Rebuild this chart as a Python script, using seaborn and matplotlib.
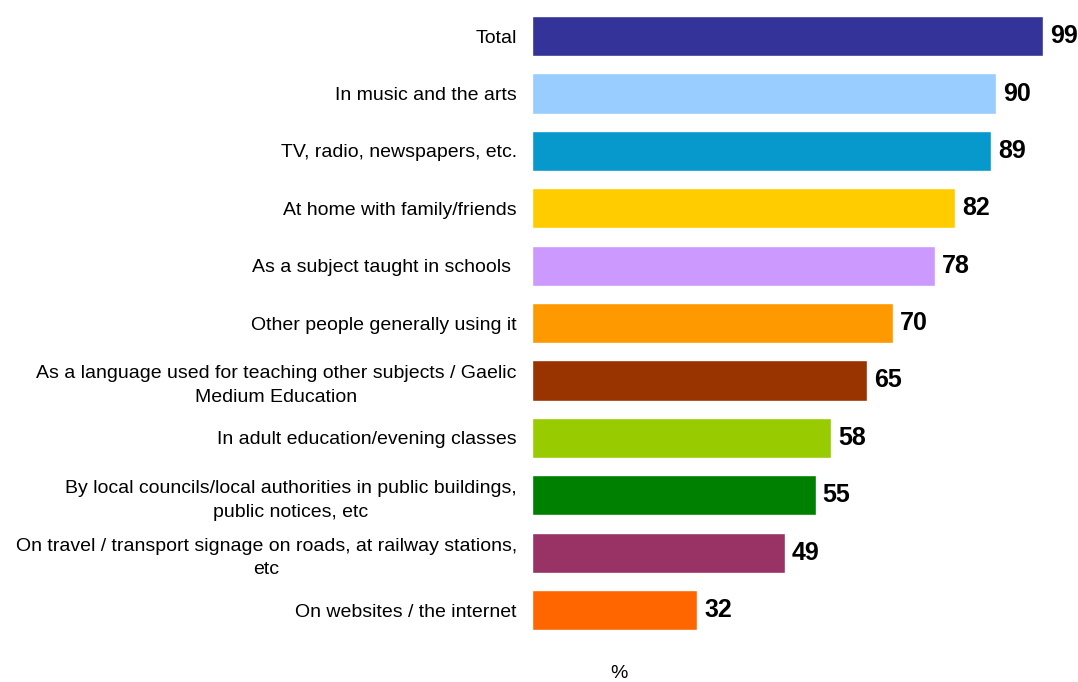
import matplotlib
matplotlib.use("Agg")
import matplotlib.pyplot as plt
import seaborn as sns
import pandas as pd

# Datos
categorias = [
    "Total",
    "In music and the arts",
    "TV, radio, newspapers, etc.",
    "At home with family/friends",
    "As a subject taught in schools ",
    "Other people generally using it",
    "As a language used for teaching other subjects / Gaelic\nMedium Education",
    "In adult education/evening classes",
    "By local councils/local authorities in public buildings,\npublic notices, etc",
    "On travel / transport signage on roads, at railway stations,\netc",
    "On websites / the internet",
]
valores = [99, 90, 89, 82, 78, 70, 65, 58, 55, 49, 32]
colores = ["#333399", "#99CCFF", "#0899CC", "#FFCC00", "#CC99FF", "#FF9900",
           "#993300", "#99CC00", "#008000", "#993366", "#FF6600"]

df = pd.DataFrame({"Categoria": categorias, "Valor": valores})

sns.set_style("white")
plt.rcParams["font.family"] = ["Liberation Sans", "DejaVu Sans"]
plt.rcParams["text.color"] = "black"
plt.rcParams["axes.labelcolor"] = "black"
plt.rcParams["ytick.color"] = "black"

fig = plt.figure(figsize=(10.78, 6.82), dpi=100)
ax = fig.add_axes([0.4935, 0.0635, 0.4787, 0.9255])

sns.barplot(data=df, x="Valor", y="Categoria", hue="Categoria", palette=colores,
            legend=False, width=0.7, saturation=1, ax=ax)

# Etiquetas de valores
for cont in ax.containers:
    ax.bar_label(cont, fmt="%d", padding=5, fontsize=18, fontweight="bold", color="black")

ax.set_xlim(0, 100)
ax.set_ylabel("")
ax.set_xlabel("%", fontsize=14)
ax.xaxis.set_label_coords(0.169, -0.042)
ax.set_xticks([])
ax.tick_params(axis="y", length=0, pad=11, labelsize=14, labelcolor="black")
for lbl in ax.get_yticklabels():
    lbl.set_multialignment("center")
    lbl.set_linespacing(1.5)
sns.despine(ax=ax, left=True, bottom=True)

plt.savefig("out.png", dpi=100)
plt.close()
